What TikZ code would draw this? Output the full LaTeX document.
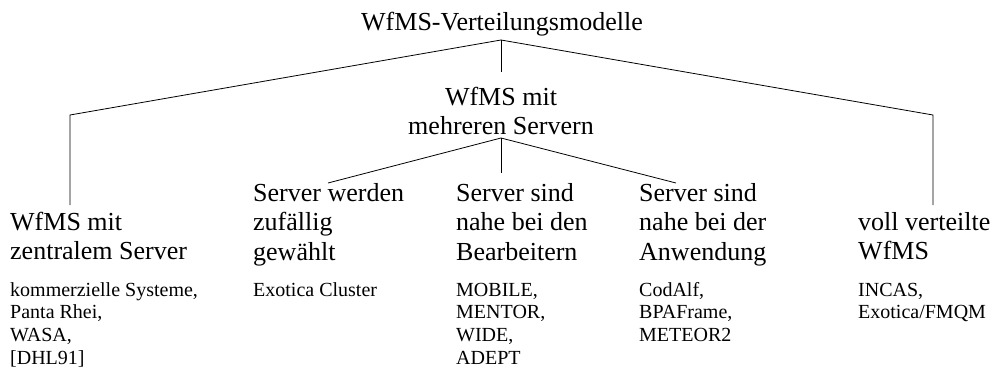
\documentclass[tikz,border=0pt]{standalone}
\usepackage{fontspec}
\setmainfont{Liberation Serif}
\newcommand{\bigtxt}{\fontsize{26}{29.5}\selectfont}
\newcommand{\smalltxt}{\fontsize{20}{22.8}\selectfont}
\tikzset{
  leaf/.style={anchor=base west, inner sep=0pt, font=\bigtxt},
  examples/.style={anchor=base west, inner sep=0pt, font=\smalltxt},
  head/.style={anchor=base, inner sep=0pt, font=\bigtxt},
  edge/.style={draw=black, line width=0.8pt, line join=miter}
}
\begin{document}
\begin{tikzpicture}[x=1pt,y=-1pt]
\useasboundingbox (0,0) rectangle (996,372);
% heads
\node[head] (root) at (502,30) {WfMS-Verteilungsmodelle};
\node[head] (multi) at (501,105) {\begin{tabular}[t]{@{}c@{}}WfMS mit\\mehreren Servern\end{tabular}};
% leaves
\node[leaf] (central) at (10,230) {\begin{tabular}[t]{@{}l@{}}WfMS mit\\zentralem Server\end{tabular}};
\node[leaf] (random) at (253,201) {\begin{tabular}[t]{@{}l@{}}Server werden\\zufällig\\gewählt\end{tabular}};
\node[leaf] (user) at (456,201) {\begin{tabular}[t]{@{}l@{}}Server sind\\nahe bei den\\Bearbeitern\end{tabular}};
\node[leaf] (app) at (639,201) {\begin{tabular}[t]{@{}l@{}}Server sind\\nahe bei der\\Anwendung\end{tabular}};
\node[leaf] (full) at (858,230) {\begin{tabular}[t]{@{}l@{}}voll verteilte\\WfMS\end{tabular}};
% examples
\node[examples] (excentral) at (10,296) {\begin{tabular}[t]{@{}l@{}}kommerzielle Systeme,\\Panta Rhei,\\WASA,\\{[DHL91]}\end{tabular}};
\node[examples] (exrandom) at (253,296) {\begin{tabular}[t]{@{}l@{}}Exotica Cluster\end{tabular}};
\node[examples] (exuser) at (456,296) {\begin{tabular}[t]{@{}l@{}}MOBILE,\\MENTOR,\\WIDE,\\ADEPT\end{tabular}};
\node[examples] (exapp) at (639,296) {\begin{tabular}[t]{@{}l@{}}CodAlf,\\BPAFrame,\\METEOR2\end{tabular}};
\node[examples] (exfull) at (858,296) {\begin{tabular}[t]{@{}l@{}}INCAS,\\Exotica/FMQM\end{tabular}};
% connection points
\coordinate (rootj) at (501,40);
\coordinate (lcorner) at (70,115);
\coordinate (centralj) at (70,205);
\coordinate (rcorner) at (933,115);
\coordinate (fullj) at (933,205);
\coordinate (multij) at (501,72);
\coordinate (multib) at (501,138);
\coordinate (randomj) at (328,183);
\coordinate (userj) at (501,173);
\coordinate (appj) at (676,183);
% connectors
\draw[edge] (rootj) -- (lcorner) -- (centralj);
\draw[edge] (rootj) -- (rcorner) -- (fullj);
\draw[edge] (rootj) -- (multij);
\draw[edge] (multib) -- (randomj);
\draw[edge] (multib) -- (userj);
\draw[edge] (multib) -- (appj);
\end{tikzpicture}
\end{document}
